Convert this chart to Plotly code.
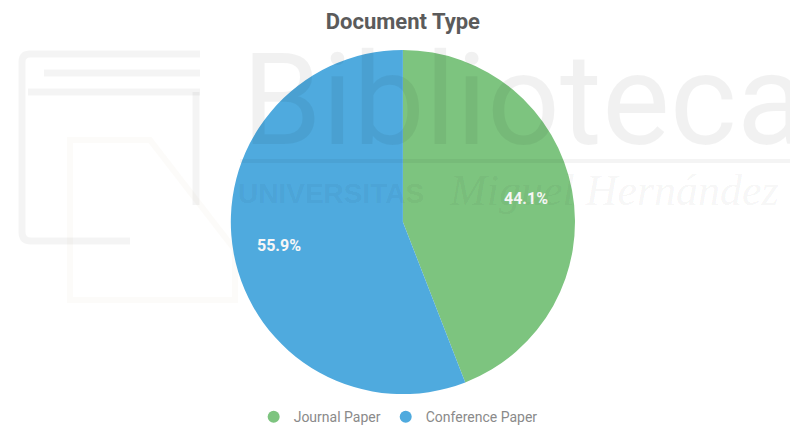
import plotly.graph_objects as go

# Share of publications by document type
doc_types = ["Journal Paper", "Conference Paper"]
shares = [44.1, 55.9]
slice_colors = ["#7dc47f", "#4faade"]

# where the percentage labels sit (pixels from top-left)
label_pos = [(526, 198), (279, 245)]

fig = go.Figure()

fig.add_trace(go.Pie(
    labels=doc_types,
    values=shares,
    sort=False,
    direction="clockwise",
    rotation=0,
    marker=dict(colors=slice_colors, line=dict(width=0)),
    textinfo="none",
    hoverinfo="label+percent",
    showlegend=False,
    domain=dict(x=[0.292, 0.728], y=[0.077, 0.883]),
))

# legend entries with round markers
for name, col in zip(doc_types, slice_colors):
    fig.add_trace(go.Scatter(
        x=[None], y=[None], mode="markers", name=name,
        marker=dict(symbol="circle", size=12, color=col),
    ))

# percentage labels on the slices
for v, (px, py) in zip(shares, label_pos):
    fig.add_annotation(
        text=f"<b>{v:.1f}%</b>", x=px, y=py, xref="x", yref="y",
        showarrow=False,
        font=dict(family="Roboto", size=16, color="#f7f7f7"),
    )

# faint library watermark
wm = "rgba(0,0,0,0.055)"
fig.add_annotation(
    text="Biblioteca", x=240, y=100, xref="x", yref="y",
    xanchor="left", yanchor="middle", showarrow=False,
    font=dict(family="Roboto", size=128, color=wm, weight=400),
)
fig.add_annotation(
    text="<b>UNIVERSITAS</b>", x=236, y=193, xref="x", yref="y",
    xanchor="left", yanchor="middle", showarrow=False,
    font=dict(family="Liberation Sans", size=28, color=wm),
)
fig.add_annotation(
    text="<i>Miguel Hernández</i>", x=447, y=190, xref="x", yref="y",
    xanchor="left", yanchor="middle", showarrow=False,
    font=dict(family="Liberation Serif", size=44, color=wm),
)
fig.add_shape(type="line", x0=240, x1=790, y0=161, y1=161, xref="x", yref="y",
              line=dict(color="rgba(0,0,0,0.045)", width=4), layer="above")

# outline of the library logo on the left
logo = "rgba(0,0,0,0.045)"
fig.add_shape(type="path", path="M 200 54 L 30 54 Q 22 54 22 62 L 22 232 Q 22 241 31 241 L 130 241",
              xref="x", yref="y", line=dict(color=logo, width=7), layer="below")
fig.add_shape(type="line", x0=44, x1=200, y0=73, y1=73, xref="x", yref="y",
              line=dict(color=logo, width=7), layer="below")
fig.add_shape(type="line", x0=28, x1=200, y0=92, y1=92, xref="x", yref="y",
              line=dict(color=logo, width=7), layer="below")
fig.add_shape(type="line", x0=196, x1=196, y0=92, y1=205, xref="x", yref="y",
              line=dict(color=logo, width=7), layer="below")
fig.add_shape(type="path", path="M 70 300 L 70 140 L 150 140 L 235 250 L 235 300 Z",
              xref="x", yref="y", line=dict(color="rgba(190,170,130,0.05)", width=6),
              layer="below")

fig.update_layout(
    width=790, height=427,
    margin=dict(l=0, r=0, t=0, b=0, autoexpand=False),
    paper_bgcolor="white", plot_bgcolor="rgba(0,0,0,0)",
    title=dict(
        text="<b>Document Type</b>", x=0.51, xanchor="center", y=0.951, yanchor="middle",
        font=dict(family="Roboto", size=22, color="#5b5b5b"),
    ),
    xaxis=dict(range=[0, 790], visible=False, fixedrange=True),
    yaxis=dict(range=[427, 0], visible=False, fixedrange=True),
    showlegend=True,
    legend=dict(
        orientation="h", x=0.504, xanchor="center", y=0.023, yanchor="middle",
        font=dict(family="Roboto", size=14, color="#8a8a8a"),
        itemsizing="constant", bgcolor="rgba(0,0,0,0)",
    ),
)

fig.write_html("out.html")
